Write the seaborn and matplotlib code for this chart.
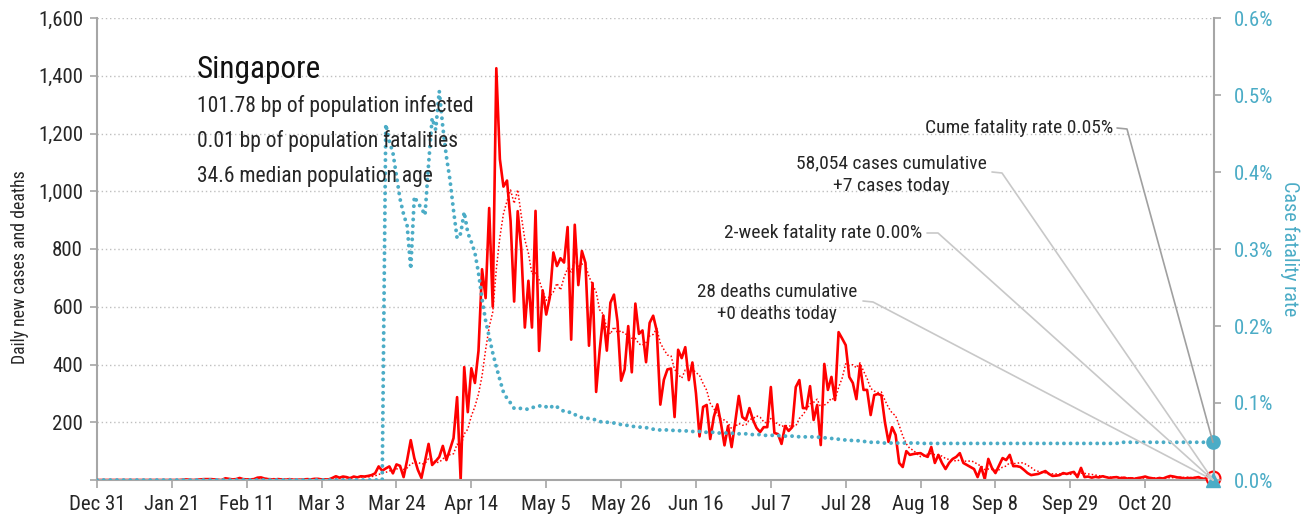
import matplotlib
matplotlib.use("Agg")
import matplotlib.pyplot as plt
from matplotlib.lines import Line2D
from matplotlib.transforms import IdentityTransform
import pandas as pd
import seaborn as sns

start_date = "2019-12-31"

# daily new cases, one value per day starting Dec 31
daily_cases = [
    0, 0, 0, 0, 0, 0, 0, 0, 0, 0,
    0, 0, 0, 0, 0, 0, 0, 0, 0, 0,
    0, 0, 0, 0, 1, 2, 1, 0, 1, 2,
    3, 3, 3, 2, 0, 0, 6, 4, 2, 3,
    7, 3, 2, 2, 3, 8, 9, 5, 3, 2,
    2, 3, 1, 1, 3, 1, 1, 1, 2, 3,
    2, 4, 4, 2, 2, 2, 7, 13, 8, 12,
    10, 6, 12, 9, 13, 12, 14, 17, 23, 47,
    32, 40, 47, 23, 54, 49, 10, 70, 138, 76,
    35, 7, 65, 125, 52, 65, 80, 118, 69, 106,
    145, 287, 0, 391, 235, 387, 336, 447, 730, 630,
    942, 600, 1426, 1111, 1016, 1037, 897, 618, 931, 799,
    528, 690, 528, 932, 447, 657, 573, 632, 788, 741,
    768, 753, 876, 486, 884, 675, 793, 752, 465, 682,
    305, 451, 570, 448, 614, 642, 548, 344, 383, 533,
    373, 611, 506, 518, 408, 544, 569, 517, 261, 347,
    383, 386, 218, 451, 422, 460, 346, 407, 300, 151,
    253, 260, 142, 218, 262, 197, 120, 187, 114, 200,
    291, 218, 208, 249, 208, 180, 166, 183, 183, 322,
    163, 159, 125, 187, 170, 183, 322, 346, 249, 249,
    325, 208, 260, 121, 402, 312, 357, 277, 512, 490,
    467, 357, 336, 280, 398, 312, 312, 225, 294, 298,
    294, 200, 132, 183, 156, 59, 45, 100, 87, 90,
    92, 93, 85, 80, 114, 59, 87, 59, 38, 59,
    73, 80, 93, 59, 52, 45, 38, 10, 45, 3,
    73, 42, 24, 50, 76, 69, 87, 48, 48, 45,
    35, 24, 17, 19, 21, 26, 31, 21, 14, 15,
    17, 24, 21, 25, 28, 10, 42, 10, 12, 8,
    11, 9, 13, 10, 7, 9, 10, 6, 8, 5,
    6, 4, 7, 9, 12, 8, 6, 4, 7, 5,
    10, 14, 12, 9, 8, 5, 7, 6, 8, 10,
    4, 5, 9, 7,
]

# case fatality rate in percent, no deaths before day 81
case_fatality_pct = [0.0] * 81 + [
    0.462, 0.440, 0.425, 0.395, 0.365, 0.345, 0.330, 0.274, 0.368, 0.360,
    0.353, 0.344, 0.410, 0.470, 0.455, 0.505, 0.458, 0.420, 0.390, 0.350,
    0.314, 0.320, 0.348, 0.321, 0.309, 0.295, 0.269, 0.235, 0.207, 0.186,
    0.165, 0.147, 0.130, 0.114, 0.106, 0.100, 0.093, 0.093, 0.093, 0.092,
    0.092, 0.094, 0.095, 0.096, 0.097, 0.095, 0.093, 0.097, 0.095, 0.092,
    0.089, 0.088, 0.088, 0.085, 0.083, 0.081, 0.080, 0.080, 0.079, 0.078,
    0.076, 0.075, 0.075, 0.075, 0.074, 0.073, 0.072, 0.071, 0.071, 0.070,
    0.069, 0.069, 0.068, 0.068, 0.067, 0.066, 0.065, 0.065, 0.065, 0.065,
    0.065, 0.064, 0.064, 0.064, 0.064, 0.063, 0.063, 0.063, 0.063, 0.062,
    0.062, 0.062, 0.062, 0.061, 0.061, 0.061, 0.061, 0.061, 0.060, 0.060,
    0.060, 0.060, 0.059, 0.059, 0.059, 0.059, 0.058, 0.058, 0.058, 0.058,
    0.058, 0.057, 0.057, 0.057, 0.057, 0.057, 0.056, 0.056, 0.056, 0.056,
    0.056, 0.056, 0.055, 0.055, 0.054, 0.054, 0.053, 0.053, 0.052, 0.052,
    0.052, 0.051, 0.051, 0.051, 0.050, 0.050, 0.049, 0.049, 0.049, 0.048,
    0.048, 0.048, 0.048, 0.048, 0.048, 0.048, 0.048, 0.048, 0.048, 0.048,
    0.048, 0.0475, 0.0475, 0.0475, 0.0475, 0.0475, 0.0475, 0.0475, 0.0475, 0.0475,
    0.0475, 0.0475, 0.0475, 0.0475, 0.0475, 0.0475, 0.0475, 0.0475, 0.0475, 0.0475,
    0.0475, 0.0475, 0.0475, 0.0475, 0.0475, 0.0475, 0.0475, 0.0475, 0.0475, 0.0475,
    0.0475, 0.0475, 0.0475, 0.0475, 0.0475, 0.0475, 0.0475, 0.0475, 0.0475, 0.0475,
    0.0475, 0.0475, 0.0475, 0.0475, 0.0475, 0.0475, 0.0475, 0.0475, 0.0475, 0.0475,
    0.0475, 0.0475, 0.0475, 0.0475, 0.0475, 0.0475, 0.049, 0.049, 0.049, 0.049,
    0.049, 0.049, 0.049, 0.049, 0.049, 0.049, 0.049, 0.049, 0.049, 0.049,
    0.049, 0.049, 0.049, 0.049, 0.049, 0.049, 0.049, 0.049, 0.049, 0.049,
    0.049, 0.049, 0.049,
]

two_week_fatality_pct = 0.0

country = "Singapore"
info_lines = [
    "101.78 bp of population infected",
    "0.01 bp of population fatalities",
    "34.6 median population age",
]
cume_text = "Cume fatality rate 0.05%"
cases_text = "58,054 cases cumulative\n+7 cases today"
twoweek_text = "2-week fatality rate 0.00%"
deaths_text = "28 deaths cumulative\n+0 deaths today"

left_ticks = [0, 200, 400, 600, 800, 1000, 1200, 1400, 1600]
right_ticks = [0.0, 0.1, 0.2, 0.3, 0.4, 0.5, 0.6]

RED = "#FF0000"
TEAL = "#4BACC6"
AXGREY = "#A6A6A6"
TXT = "#262626"

sns.set_theme(style="white")
plt.rcParams["font.family"] = ["Roboto Condensed", "Liberation Sans Narrow", "Roboto", "DejaVu Sans"]

dates = pd.date_range(start_date, periods=len(daily_cases), freq="D")
df = pd.DataFrame({"date": dates, "cases": daily_cases, "cfr": case_fatality_pct})
df["avg7"] = df["cases"].rolling(7, min_periods=1).mean()

W, H = 1308, 520
fig = plt.figure(figsize=(W / 100, H / 100), dpi=100)
ax = fig.add_axes([97 / W, 40 / H, (1214 - 97) / W, (480 - 18) / H])
ax2 = ax.twinx()

sns.lineplot(data=df, x="date", y="cases", ax=ax, color=RED, lw=1.9, estimator=None)
sns.lineplot(data=df, x="date", y="avg7", ax=ax, color=RED, lw=1.1,
             linestyle=(0, (1, 1.4)), estimator=None)
sns.lineplot(data=df, x="date", y="cfr", ax=ax2, color=TEAL, lw=2.8,
             linestyle=(0, (0.01, 1.7)), dash_capstyle="round", estimator=None)

end = dates[-1]
ax.set_xlim(dates[0], dates[0] + pd.Timedelta(days=313.3))
ax.set_ylim(0, 1600)
ax2.set_ylim(0, 0.6)

# end-of-series markers
ax.plot([end], [daily_cases[-1]], marker="o", ms=10, mfc="#FFE5E5", mec=RED, mew=1.5, clip_on=False, zorder=5)
ax2.plot([end], [two_week_fatality_pct], marker="^", ms=10, color=TEAL, clip_on=False, zorder=6)
ax2.plot([end], [case_fatality_pct[-1]], marker="o", ms=9.5, color=TEAL, clip_on=False, zorder=6)

tick_dates = dates[::21]
ax.set_xticks(tick_dates)
ax.set_xticklabels([f"{d:%b} {d.day}" for d in tick_dates])
ax.set_yticks(left_ticks)
ax.set_yticklabels(["" if v == 0 else f"{v:,}" for v in left_ticks])
ax2.set_yticks(right_ticks)
ax2.set_yticklabels([f"{v:.1f}%" for v in right_ticks])

ax.yaxis.grid(True, color="#BFBFBF", linestyle=(0, (1, 2)), lw=1)
ax.xaxis.grid(False)
for s in ["top", "right"]:
    ax.spines[s].set_visible(False)
for s in ["top", "left", "bottom"]:
    ax2.spines[s].set_visible(False)
for sp in [ax.spines["left"], ax.spines["bottom"], ax2.spines["right"]]:
    sp.set_color(AXGREY)
    sp.set_linewidth(1.5)

ax.tick_params(axis="y", length=5, width=1.2, color=AXGREY, labelsize=15, labelcolor=TXT, pad=5, left=True)
ax.tick_params(axis="x", length=6, width=1.2, color=AXGREY, labelsize=15, labelcolor=TXT, pad=5, bottom=True)
ax2.tick_params(axis="y", length=5, width=1.2, color=AXGREY, labelsize=15, labelcolor=TEAL, pad=9, right=True)

ax.set_xlabel("")
ax.set_ylabel("Daily new cases and deaths", fontsize=12.8, color=TXT, va="center")
ax.yaxis.set_label_coords(-0.069, 0.46)
ax2.set_ylabel("Case fatality rate", fontsize=14.5, color=TEAL, rotation=270, va="center")
ax2.yaxis.set_label_coords(1.068, 0.5)


def px(x, y):
    return x / W, 1 - y / H


fig.text(*px(197, 78), country, fontsize=22.5, color="#111111", ha="left", va="baseline")
for i, line in enumerate(info_lines):
    fig.text(*px(197, 112 + 35 * i), line, fontsize=15.5, color=TXT, ha="left", va="baseline")

fig.text(*px(1113, 128), cume_text, fontsize=14, color=TXT, ha="right", va="center")
fig.text(*px(891, 175), cases_text, fontsize=14, color=TXT, ha="center", va="center",
         multialignment="center", linespacing=1.35)
fig.text(*px(922, 233), twoweek_text, fontsize=14, color=TXT, ha="right", va="center")
fig.text(*px(777, 303), deaths_text, fontsize=13.7, color=TXT, ha="center", va="center",
         multialignment="center", linespacing=1.35)

# leader lines: short horizontal stub then diagonal to the end point
zero_pt = ax.transData.transform((matplotlib.dates.date2num(end), 0))
cfr_pt = ax2.transData.transform((matplotlib.dates.date2num(end), case_fatality_pct[-1]))
leaders = [
    ((1117, 128), (1127, 129), cfr_pt, "#A0A0A0"),
    ((992, 172), (1002, 173), zero_pt, "#C8C8C8"),
    ((927, 233), (938, 233), zero_pt, "#C8C8C8"),
    ((863, 301), (873, 302), zero_pt, "#C8C8C8"),
]
for (x0, y0), (x1, y1), tgt, col in leaders:
    xs = [x0, x1, tgt[0]]
    ys = [H - y0, H - y1, tgt[1]]
    fig.add_artist(Line2D(xs, ys, transform=IdentityTransform(), color=col, lw=1.2, zorder=1))

fig.savefig("out.png", dpi=100)
